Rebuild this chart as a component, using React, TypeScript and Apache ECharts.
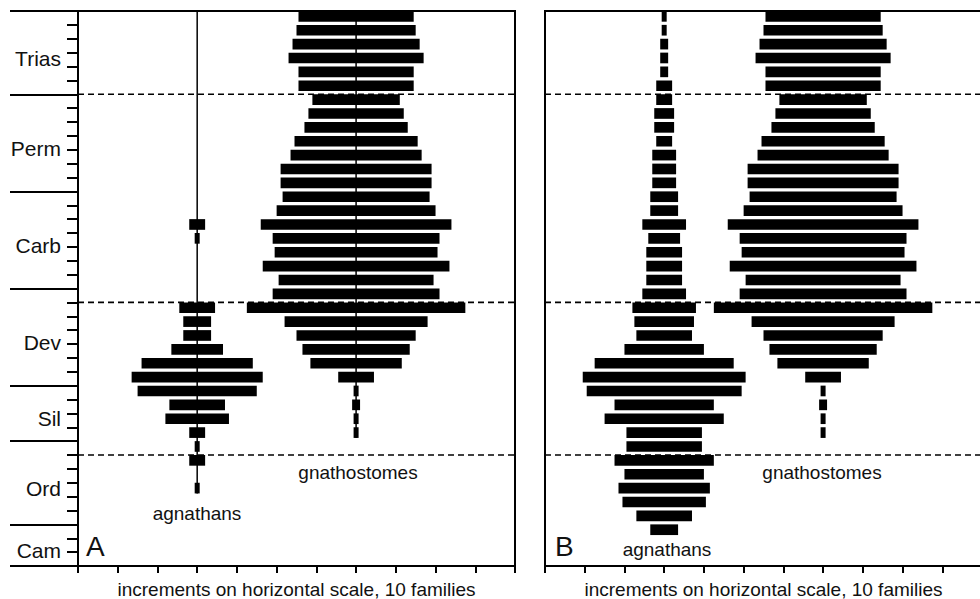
import React, { useEffect, useRef } from "react";
import * as echarts from "echarts";

// ---- data ----
const periods = ["Trias", "Perm", "Carb", "Dev", "Sil", "Ord", "Cam"];
const periodBounds = [0, 6, 13, 20, 27, 31, 37, 40];
const extinctionStages = [6, 21, 32];
const stageCount = 40;
const xMax = 110;
const xStep = 10;

// families per stage (stage 0 = youngest, top)
const gnathostomes = [
  29, 30, 32, 34, 29, 29, 22, 24, 26, 31, 33, 38, 38, 37, 40, 48, 42, 41, 47, 39,
  42, 55, 36, 30, 27, 23, 9, 1, 2, 1, 1, 0, 0, 0, 0, 0, 0, 0, 0, 0,
];
const agnathansA = [
  0, 0, 0, 0, 0, 0, 0, 0, 0, 0, 0, 0, 0, 0, 0, 4, 1, 0, 0, 0,
  0, 9, 7, 7, 13, 28, 33, 30, 14, 16, 4, 1, 4, 0, 1, 0, 0, 0, 0, 0,
];
const agnathansB = [
  1, 1, 2, 2, 2, 4, 4, 5, 5, 4, 6, 6, 6, 7, 7, 11, 8, 9, 9, 9,
  11, 16, 15, 14, 20, 35, 41, 39, 25, 30, 19, 19, 25, 20, 23, 21, 14, 7, 0, 0,
];
const agnathanCenter = 30;
const gnathostomeCenter = 70;
// range-through lines (panel A): [center, first stage, last stage]
const rangeLinesA = [
  [agnathanCenter, 0, 34],
  [gnathostomeCenter, 0, 30],
];

// ---- style ----
const FONT = "'Liberation Sans', Arial, Helvetica, sans-serif";
const BAR_FRAC = 0.77;
const MIN_W = 5;
const INK = "#000";

function barData(counts: number[], center: number) {
  return counts.map((n, i) => [i, center, n]);
}

const renderBar = (params: any, api: any) => {
  const stage = api.value(0);
  const center = api.value(1);
  const n = api.value(2);
  if (!n) return null;
  const p1 = api.coord([center - n / 2, stage]);
  const p2 = api.coord([center + n / 2, stage + BAR_FRAC]);
  let x = p1[0];
  let w = p2[0] - p1[0];
  if (w < MIN_W) {
    x = (p1[0] + p2[0]) / 2 - MIN_W / 2;
    w = MIN_W;
  }
  return {
    type: "rect",
    shape: { x, y: p1[1], width: w, height: p2[1] - p1[1] },
    style: { fill: INK },
  };
};

const renderDash = (params: any, api: any) => {
  const s = api.value(0);
  const a = api.coord([0, s]);
  const b = api.coord([xMax, s]);
  return {
    type: "line",
    shape: { x1: a[0], y1: a[1], x2: b[0], y2: b[1] },
    style: { stroke: INK, lineWidth: 1.6, lineDash: [6, 4] },
  };
};

const renderRange = (params: any, api: any) => {
  const c = api.value(0);
  const a = api.coord([c, api.value(1)]);
  const b = api.coord([c, api.value(2) + BAR_FRAC]);
  return {
    type: "line",
    shape: { x1: a[0], y1: a[1], x2: b[0], y2: b[1] },
    style: { stroke: INK, lineWidth: 1.5 },
  };
};

export default function App() {
  const ref = useRef<HTMLDivElement>(null);

  useEffect(() => {
    if (!ref.current) return;
    const chart = echarts.init(ref.current, undefined, { renderer: "svg" });

    const labelPos = periods.map((_, i) => (periodBounds[i] + periodBounds[i + 1]) / 2 + 0.4);
    const allStages = Array.from({ length: stageCount + 1 }, (_, i) => i);

    const xAxisBase = (gridIndex: number) => ({
      type: "value",
      gridIndex,
      position: "bottom",
      min: 0,
      max: xMax,
      interval: xStep,
      axisLine: { show: true, onZero: false, lineStyle: { color: INK, width: 2 } },
      axisTick: { show: true, inside: false, length: 7, lineStyle: { color: INK, width: 2 } },
      axisLabel: { show: false },
      splitLine: { show: false },
      name: "increments on horizontal scale, 10 families",
      nameLocation: "middle",
      nameGap: 14,
      nameTextStyle: { fontSize: 19, color: "#111", fontFamily: FONT },
    });

    const yBase = {
      type: "value",
      inverse: true,
      min: 0,
      max: stageCount,
      interval: 1,
      position: "left",
      splitLine: { show: false },
    };

    const gridBase = {
      top: 11,
      width: 437,
      height: 555,
      show: true,
      borderColor: INK,
      borderWidth: 2,
      backgroundColor: "transparent",
      containLabel: false,
      outerBoundsMode: "none",
    };

    const option: any = {
      animation: false,
      backgroundColor: "#fff",
      grid: [
        { ...gridBase, left: 78 },
        { ...gridBase, left: 545 },
      ],
      xAxis: [xAxisBase(0), xAxisBase(1)],
      yAxis: [
        {
          ...yBase,
          gridIndex: 0,
          axisLine: { show: true, onZero: false, lineStyle: { color: INK, width: 2 } },
          axisTick: { show: true, length: 11, customValues: allStages, lineStyle: { color: INK, width: 2 } },
          axisLabel: {
            show: true,
            customValues: labelPos,
            margin: 17,
            fontSize: 21,
            color: "#111",
            fontFamily: FONT,
            formatter: (v: number) => {
              let best = 0;
              labelPos.forEach((p, i) => {
                if (Math.abs(p - v) < Math.abs(labelPos[best] - v)) best = i;
              });
              return periods[best];
            },
          },
        },
        {
          ...yBase,
          gridIndex: 0,
          axisLine: { show: false, onZero: false },
          axisTick: { show: true, length: 68, customValues: periodBounds, lineStyle: { color: INK, width: 2 } },
          axisLabel: { show: false },
        },
        {
          ...yBase,
          gridIndex: 1,
          axisLine: { show: true, onZero: false, lineStyle: { color: INK, width: 2 } },
          axisTick: { show: false },
          axisLabel: { show: false },
        },
      ],
      series: [
        {
          type: "custom",
          name: "rangeA",
          xAxisIndex: 0,
          yAxisIndex: 0,
          renderItem: renderRange,
          data: rangeLinesA,
          encode: { x: 0, y: [1, 2] },
          z: 1,
        },
        {
          type: "custom",
          name: "dashA",
          xAxisIndex: 0,
          yAxisIndex: 0,
          renderItem: renderDash,
          data: extinctionStages.map((s) => [s]),
          encode: { y: 0 },
          z: 1,
        },
        {
          type: "custom",
          name: "dashB",
          xAxisIndex: 1,
          yAxisIndex: 2,
          renderItem: renderDash,
          data: extinctionStages.map((s) => [s]),
          encode: { y: 0 },
          z: 1,
        },
        {
          type: "custom",
          name: "agnathans A",
          xAxisIndex: 0,
          yAxisIndex: 0,
          renderItem: renderBar,
          data: barData(agnathansA, agnathanCenter),
          encode: { x: 1, y: 0 },
          z: 2,
        },
        {
          type: "custom",
          name: "gnathostomes A",
          xAxisIndex: 0,
          yAxisIndex: 0,
          renderItem: renderBar,
          data: barData(gnathostomes, gnathostomeCenter),
          encode: { x: 1, y: 0 },
          z: 2,
        },
        {
          type: "custom",
          name: "agnathans B",
          xAxisIndex: 1,
          yAxisIndex: 2,
          renderItem: renderBar,
          data: barData(agnathansB, agnathanCenter),
          encode: { x: 1, y: 0 },
          z: 2,
        },
        {
          type: "custom",
          name: "gnathostomes B",
          xAxisIndex: 1,
          yAxisIndex: 2,
          renderItem: renderBar,
          data: barData(gnathostomes, gnathostomeCenter),
          encode: { x: 1, y: 0 },
          z: 2,
        },
      ],
      graphic: [
        { type: "text", x: 197, y: 513, style: { text: "agnathans", fontSize: 19, fontFamily: FONT, fill: "#111", align: "center", verticalAlign: "middle" } },
        { type: "text", x: 358, y: 472, style: { text: "gnathostomes", fontSize: 19, fontFamily: FONT, fill: "#111", align: "center", verticalAlign: "middle" } },
        { type: "text", x: 667, y: 549, style: { text: "agnathans", fontSize: 19, fontFamily: FONT, fill: "#111", align: "center", verticalAlign: "middle" } },
        { type: "text", x: 822, y: 472, style: { text: "gnathostomes", fontSize: 19, fontFamily: FONT, fill: "#111", align: "center", verticalAlign: "middle" } },
        { type: "text", x: 86, y: 546, style: { text: "A", fontSize: 28, fontFamily: FONT, fill: "#111", align: "left", verticalAlign: "middle" } },
        { type: "text", x: 555, y: 546, style: { text: "B", fontSize: 28, fontFamily: FONT, fill: "#111", align: "left", verticalAlign: "middle" } },
      ],
    };

    chart.setOption(option);
    return () => chart.dispose();
  }, []);

  return (
    <div
      ref={ref}
      style={{ position: "fixed", left: 0, top: 0, width: 980, height: 599, background: "#fff" }}
    />
  );
}
